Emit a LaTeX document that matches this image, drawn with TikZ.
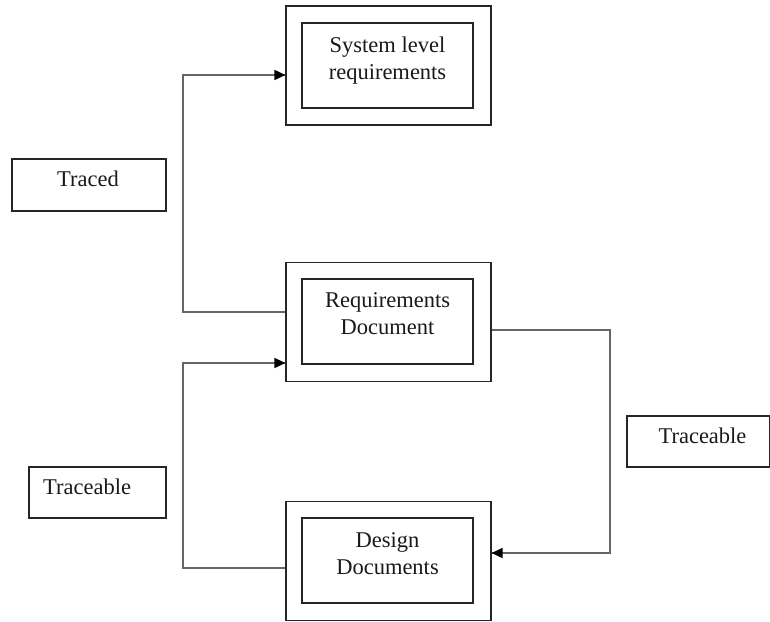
\documentclass[tikz,border=0pt]{standalone}
\usepackage{fontspec}
\setmainfont{Liberation Serif}
\usetikzlibrary{arrows.meta}
\begin{document}
\begin{tikzpicture}[x=1pt,y=-1pt,
  outerbox/.style={draw=black!85,line width=1.2pt,minimum width=205pt,minimum height=119pt,inner sep=0pt},
  innerbox/.style={draw=black!85,line width=1.2pt,minimum width=171pt,minimum height=85pt,inner sep=0pt},
  labelbox/.style={draw=black!85,line width=1.2pt,inner sep=0pt},
  txt/.style={inner sep=0pt,align=center,font=\fontsize{22.5}{27}\selectfont,text=black!90},
  conn/.style={draw=black!60,line width=1.7pt},
  tip/.style={-{Triangle[length=11pt,width=10pt,color=black]}}]
\useasboundingbox (0,0) rectangle (770,621);
% main boxes
\node[outerbox] (slr) at (388.5,65.5) {};
\node[innerbox] (slri) at (387.5,65.5) {};
\node[txt,anchor=north] (slrt) at (387.5,37) {System level\\requirements};
\node[outerbox] (req) at (388.5,322) {};
\node[innerbox] (reqi) at (387.5,321.5) {};
\node[txt,anchor=north] (reqt) at (387.5,292) {Requirements\\Document};
\node[outerbox] (des) at (388.5,561) {};
\node[innerbox] (desi) at (387.5,560.5) {};
\node[txt,anchor=north] (dest) at (387.5,532) {Design\\Documents};
% label boxes
\node[labelbox,minimum width=154pt,minimum height=52pt] (tracedbox) at (89,185) {};
\node[txt,anchor=base] (traced) at (88,186) {Traced};
\node[labelbox,minimum width=137pt,minimum height=51pt] (tleftbox) at (97.5,492.5) {};
\node[txt,anchor=base west] (tleft) at (43,494) {Traceable};
\node[labelbox,minimum width=143pt,minimum height=51pt] (trightbox) at (698.5,441.5) {};
\node[txt,anchor=base] (tright) at (702.5,443) {Traceable};
% connector columns
\coordinate (lx) at (183,0);
\coordinate (rx) at (610,0);
% connectors
\coordinate (a1) at ([yshift=10pt]req.west);
\coordinate (a2) at ([yshift=-9.5pt]slr.west);
\draw[conn] (a1) -- (a1 -| lx) -- (a2 -| lx) -- (a2);
\draw[tip,conn] ([xshift=-14pt]a2) -- (a2);
\coordinate (b1) at ([yshift=-7pt]des.west);
\coordinate (b2) at ([yshift=-41pt]req.west);
\draw[conn] (b1) -- (b1 -| lx) -- (b2 -| lx) -- (b2);
\draw[tip,conn] ([xshift=-14pt]b2) -- (b2);
\coordinate (c1) at ([yshift=-8pt]req.east);
\coordinate (c2) at ([yshift=8pt]des.east);
\draw[conn] (c1) -- (c1 -| rx) -- (c2 -| rx) -- (c2);
\draw[tip,conn] ([xshift=14pt]c2) -- (c2);
\end{tikzpicture}
\end{document}
